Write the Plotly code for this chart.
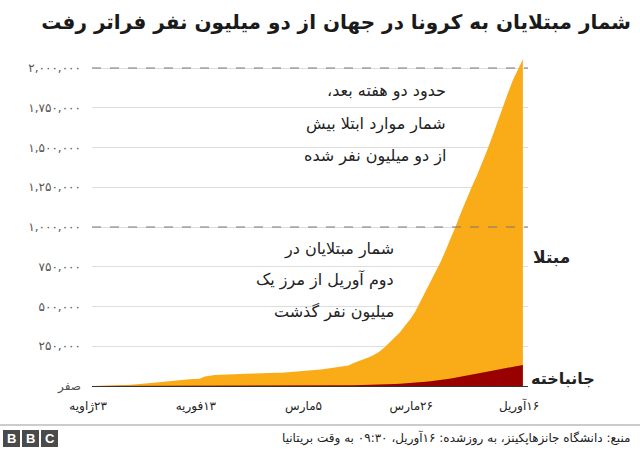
import pandas as pd
import plotly.graph_objects as go

# ---------------- data ----------------
dates = pd.date_range("2020-01-22", "2020-04-16", freq="D")

cases = [
    555, 654, 941, 1434, 2118, 2927, 5578, 6166, 8234, 9927,
    12038, 16787, 19881, 23892, 27635, 30794, 34391, 37120, 40150, 42762,
    44802, 45221, 60368, 66885, 69030, 71224, 73258, 75136, 75639, 76197,
    76819, 78572, 78958, 79561, 80406, 81388, 82746, 84112, 86011,
    88369, 90306, 92840, 95120, 97886, 101801, 105847, 109821, 113590, 118620,
    125875, 128352, 145205, 156101, 167454, 181574, 197102, 214821, 242570, 272208,
    304507, 336953, 378235, 418045, 467653, 529591, 593291, 660706, 720117, 782365,
    857487,
    932605, 1013157, 1095917, 1176060, 1249754, 1321481, 1396476, 1480202, 1565278,
    1657526, 1735650, 1834721, 1920000, 1990000, 2055000,
]

deaths = [
    17, 18, 26, 42, 56, 82, 131, 133, 171, 213,
    259, 362, 426, 492, 564, 634, 719, 806, 906, 1013,
    1113, 1118, 1371, 1523, 1666, 1770, 1868, 2007, 2122, 2247,
    2251, 2458, 2469, 2629, 2708, 2770, 2814, 2872, 2941,
    2996, 3085, 3160, 3254, 3348, 3460, 3558, 3802, 3988, 4262,
    4615, 4720, 5404, 5819, 6440, 7126, 7905, 8733, 9867, 11299,
    12973, 14651, 16505, 18625, 21181, 23970, 27198, 30652, 33925, 37582,
    42107,
    47180, 53190, 58787, 64606, 69374, 74565, 81865, 88338, 95455,
    102525, 108503, 114091, 119482, 125983, 132000,
]

x_tick_dates = ["2020-01-23", "2020-02-13", "2020-03-05", "2020-03-26", "2020-04-16"]
x_tick_text = ["۲۳ژاویه", "۱۳فوریه", "۵مارس", "۲۶مارس", "۱۶آوریل"]

y_tick_vals = [0, 250000, 500000, 750000, 1000000, 1250000, 1500000, 1750000, 2000000]
y_tick_text = ["صفر", "۲۵۰,۰۰۰", "۵۰۰,۰۰۰", "۷۵۰,۰۰۰", "۱,۰۰۰,۰۰۰",
               "۱,۲۵۰,۰۰۰", "۱,۵۰۰,۰۰۰", "۱,۷۵۰,۰۰۰", "۲,۰۰۰,۰۰۰"]
dashed_levels = [1000000, 2000000]

title_text = "شمار مبتلایان به کرونا در جهان از دو میلیون نفر فراتر رفت"
note1 = ["حدود دو هفته بعد،", "شمار موارد ابتلا بیش", "از دو میلیون نفر شده"]
note2 = ["شمار مبتلایان در", "دوم آوریل از مرز یک", "میلیون نفر گذشت"]
label_cases = "مبتلا"
label_deaths = "جانباخته"
source_text = "منبع: دانشگاه جانزهاپکینز، به روزشده: ۱۶آوریل، ۰۹:۳۰ به وقت بریتانیا"

ORANGE = "#FAAB18"
DARKRED = "#990000"
FONT = "DejaVu Sans"


def rtl(s):
    return "\u202b" + s + "\u202c"


# ---------------- geometry (page pixels) ----------------
W, H = 640, 450
L, R, T, B = 92, 528, 55, 386
y_top = 2000000 * (B - T) / (B - 68)


def px(x):
    return (x - L) / (R - L)


def py(y):
    return (B - y) / (B - T)


fig = go.Figure()
fig.add_trace(go.Scatter(x=dates, y=cases, mode="lines", line=dict(width=0, color=ORANGE),
                         fill="tozeroy", fillcolor=ORANGE, hoverinfo="skip", showlegend=False))
fig.add_trace(go.Scatter(x=dates, y=deaths, mode="lines", line=dict(width=0, color=DARKRED),
                         fill="tozeroy", fillcolor=DARKRED, hoverinfo="skip", showlegend=False))

shapes = []
for lv in dashed_levels:
    shapes.append(dict(type="line", xref="paper", yref="y", x0=0, x1=1, y0=lv, y1=lv,
                       line=dict(color="#777777", width=1, dash="dash"), layer="above"))
# footer separator
shapes.append(dict(type="line", xref="paper", yref="paper", x0=px(0), x1=px(W),
                   y0=py(425), y1=py(425), line=dict(color="#999999", width=1)))
# BBC blocks
for bx in [3, 22, 41]:
    shapes.append(dict(type="rect", xref="paper", yref="paper", x0=px(bx), x1=px(bx + 17),
                       y0=py(447), y1=py(430), fillcolor="#4a4a4a", line=dict(width=0)))

annotations = []
for t, yy in zip(note1, [91, 124, 156]):
    annotations.append(dict(text=rtl(t), xref="paper", yref="paper", x=px(448), y=py(yy),
                            xanchor="right", yanchor="middle", showarrow=False,
                            font=dict(family=FONT, size=16, color="#222222")))
for t, yy in zip(note2, [249, 280, 312]):
    annotations.append(dict(text=rtl(t), xref="paper", yref="paper", x=px(396), y=py(yy),
                            xanchor="right", yanchor="middle", showarrow=False,
                            font=dict(family=FONT, size=16, color="#222222")))
annotations.append(dict(text=f"<b>{label_cases}</b>", xref="paper", yref="paper", x=px(531), y=py(257),
                        xanchor="left", yanchor="middle", showarrow=False,
                        font=dict(family=FONT, size=17, color="#222222")))
annotations.append(dict(text=f"<b>{label_deaths}</b>", xref="paper", yref="paper", x=px(529), y=py(378),
                        xanchor="left", yanchor="middle", showarrow=False,
                        font=dict(family=FONT, size=16, color="#222222")))
annotations.append(dict(text=rtl(source_text), xref="paper", yref="paper", x=px(633), y=py(438),
                        xanchor="right", yanchor="middle", showarrow=False,
                        font=dict(family=FONT, size=12, color="#222222")))
for bx, letter in zip([3, 22, 41], "BBC"):
    annotations.append(dict(text=f"<b>{letter}</b>", xref="paper", yref="paper", x=px(bx + 8.5), y=py(438.5),
                            xanchor="center", yanchor="middle", showarrow=False,
                            font=dict(family="Liberation Sans", size=13, color="white")))

fig.update_layout(
    width=W, height=H,
    margin=dict(l=L, r=W - R, t=T, b=H - B, pad=0),
    paper_bgcolor="white", plot_bgcolor="white",
    title=dict(text=f"<b>{rtl(title_text)}</b>", x=631 / W, xanchor="right", xref="container",
               y=1 - 22 / H, yanchor="middle", yref="container",
               font=dict(family=FONT, size=20, color="#1a1a1a")),
    xaxis=dict(type="date", range=[dates[0], dates[-1]], tickvals=x_tick_dates,
               ticktext=[rtl(t) for t in x_tick_text],
               showgrid=False, zeroline=False, showline=True, linecolor="#333333", linewidth=1,
               ticks="", tickfont=dict(family=FONT, size=12, color="#222222"),
               ticklabelshift=-9, ticklabelstandoff=9, fixedrange=True),
    yaxis=dict(range=[0, y_top], tickvals=y_tick_vals, ticktext=y_tick_text,
               showgrid=True, gridcolor="#dddddd", gridwidth=1, zeroline=False,
               ticks="", ticklabelstandoff=10, tickfont=dict(family=FONT, size=12, color="#555555"),
               fixedrange=True),
    shapes=shapes,
    annotations=annotations,
)

fig.write_html("out.html", config={"displayModeBar": False})
